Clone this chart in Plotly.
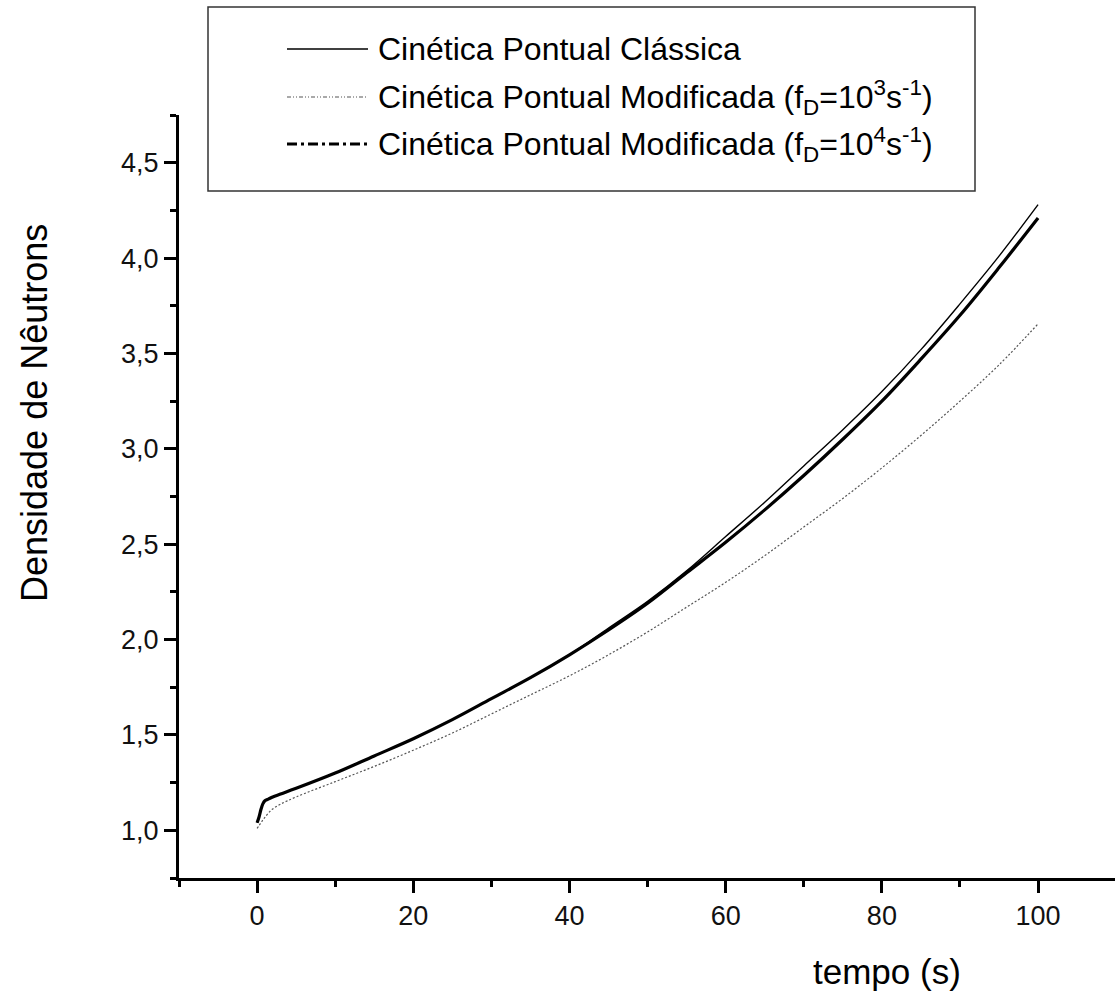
import plotly.graph_objects as go

# Time axis (s)
tempo = [0, 0.25, 0.5, 0.75, 1, 1.5, 2, 3, 5, 10, 15, 20, 25, 30, 35, 40, 45,
         50, 55, 60, 65, 70, 75, 80, 85, 90, 95, 100]

# Neutron density — classical point kinetics
classica = [1.04, 1.07, 1.11, 1.14, 1.155, 1.165, 1.175, 1.19, 1.22, 1.30, 1.39,
            1.48, 1.58, 1.69, 1.80, 1.92, 2.06, 2.20, 2.36, 2.54, 2.72, 2.91,
            3.10, 3.30, 3.52, 3.76, 4.01, 4.28]

# Modified point kinetics, f_D = 1e3 s^-1
modificada_1e3 = [1.01, 1.025, 1.04, 1.055, 1.068, 1.093, 1.112, 1.137, 1.175,
                  1.255, 1.335, 1.42, 1.51, 1.61, 1.71, 1.81, 1.92, 2.04, 2.17,
                  2.30, 2.44, 2.59, 2.74, 2.90, 3.07, 3.25, 3.44, 3.655]

# Modified point kinetics, f_D = 1e4 s^-1
modificada_1e4 = [1.04, 1.07, 1.11, 1.14, 1.155, 1.165, 1.175, 1.19, 1.22, 1.30,
                  1.39, 1.48, 1.58, 1.69, 1.80, 1.92, 2.05, 2.19, 2.35, 2.51,
                  2.68, 2.86, 3.05, 3.25, 3.47, 3.70, 3.95, 4.21]

legend_labels = [
    "Cinética Pontual Clássica",
    "Cinética Pontual Modificada (f<sub>D</sub>=10<sup>3</sup>s<sup>-1</sup>)",
    "Cinética Pontual Modificada (f<sub>D</sub>=10<sup>4</sup>s<sup>-1</sup>)",
]

FONT = "Liberation Sans, Arial, sans-serif"
W, H = 1115, 992
ML, MR, MT, MB = 179, 0, 115, 114
PW, PH = W - ML - MR, H - MT - MB


def px_x(px):
    return (px - ML) / PW


def px_y(py):
    return (H - MB - py) / PH


fig = go.Figure()

fig.add_trace(go.Scatter(
    x=tempo, y=modificada_1e3, mode="lines", name=legend_labels[1],
    line=dict(color="#555555", width=1.2, dash="2px,2px", shape="spline"),
))
fig.add_trace(go.Scatter(
    x=tempo, y=classica, mode="lines", name=legend_labels[0],
    line=dict(color="black", width=1.4, shape="spline"),
))
fig.add_trace(go.Scatter(
    x=tempo, y=modificada_1e4, mode="lines", name=legend_labels[2],
    line=dict(color="black", width=3.2, shape="spline"),
))

# Legend box with line samples
shapes = [dict(type="rect", xref="paper", yref="paper",
               x0=px_x(208), x1=px_x(975), y0=px_y(191), y1=px_y(7),
               line=dict(color="#333333", width=1.5), fillcolor="white",
               layer="above")]
samples = [
    dict(color="black", width=1.4, dash="solid"),
    dict(color="#555555", width=1.2, dash="4px,2px,1px,2px,1px,2px"),
    dict(color="black", width=3, dash="10px,4px,3px,4px"),
]
rows = [49, 97, 144]
annotations = []
for label, row, st in zip(legend_labels, rows, samples):
    shapes.append(dict(type="line", xref="paper", yref="paper",
                       x0=px_x(287), x1=px_x(368), y0=px_y(row), y1=px_y(row),
                       line=st, layer="above"))
    annotations.append(dict(xref="paper", yref="paper", x=px_x(376),
                            y=px_y(row), text=label, showarrow=False,
                            xanchor="left", yanchor="middle",
                            font=dict(family=FONT, size=32, color="black")))

# Axis titles
annotations.append(dict(xref="paper", yref="paper", x=px_x(887), y=px_y(971),
                        text="tempo (s)", showarrow=False, xanchor="center",
                        yanchor="middle",
                        font=dict(family=FONT, size=35, color="black")))
annotations.append(dict(xref="paper", yref="paper", x=px_x(34), y=px_y(413),
                        text="Densidade de Nêutrons", showarrow=False,
                        textangle=-90, xanchor="center", yanchor="middle",
                        font=dict(family=FONT, size=36, color="black")))

axis_common = dict(
    showgrid=False, zeroline=False, showline=True, linecolor="black",
    linewidth=3, ticks="outside", ticklen=12, tickwidth=2.5,
    tickcolor="black", mirror=False,
    tickfont=dict(family=FONT, size=27, color="#111111"),
)

fig.update_layout(
    width=W, height=H,
    margin=dict(l=ML, r=MR, t=MT, b=MB),
    paper_bgcolor="white", plot_bgcolor="white",
    separators=",.",
    showlegend=False,
    shapes=shapes,
    annotations=annotations,
    xaxis=dict(range=[-10, 109.85], tickmode="linear", tick0=0, dtick=20,
               minor=dict(ticks="outside", ticklen=6, tickwidth=2.5,
                          tickcolor="black", tick0=-10, dtick=20),
               **axis_common),
    yaxis=dict(range=[0.75, 4.75], tickmode="linear", tick0=1.0, dtick=0.5,
               tickformat=".1f",
               minor=dict(ticks="outside", ticklen=6, tickwidth=2.5,
                          tickcolor="black", tick0=0.75, dtick=0.5),
               **axis_common),
)

fig.write_html("out.html")
